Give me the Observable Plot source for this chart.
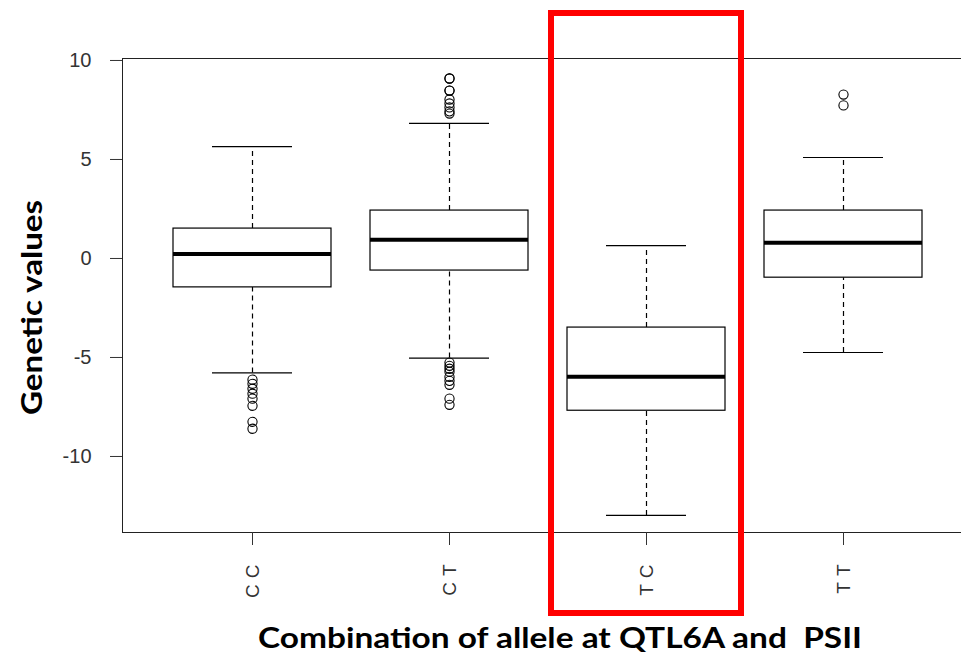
<!DOCTYPE html>
<html>
<head>
<meta charset="utf-8">
<script src="https://cdn.jsdelivr.net/npm/d3@7"></script>
<script src="https://cdn.jsdelivr.net/npm/@observablehq/plot@0.6"></script>
<style>
  html, body { margin: 0; padding: 0; background: #fff; }
  #chart svg { display: block; }
  #chart g[aria-label="x-axis tick label"] text { letter-spacing: 6px; }
</style>
</head>
<body>
<div id="chart"></div>
<script>
// Genotype groups (allele combination at QTL6A and PSII)
const groups = ["CC", "CT", "TC", "TT"];

// Box-and-whisker summaries per group
const lowerWhisker = [-5.78, -5.03, -12.98, -4.75];
const q1 = [-1.46, -0.61, -7.69, -0.97];
const median = [0.23, 0.95, -5.97, 0.80];
const q3 = [1.51, 2.42, -3.49, 2.42];
const upperWhisker = [5.65, 6.82, 0.65, 5.10];

// Points beyond the whiskers
const outliersCC = [-6.12, -6.33, -6.58, -6.83, -7.08, -7.44, -8.25, -8.60];
const outliersCT = [9.09, 9.09, 8.48, 8.48, 8.03, 7.83, 7.63, 7.43, 7.32,
                    -5.26, -5.42, -5.57, -5.72, -5.98, -6.18, -6.38, -7.08, -7.39];
const outliersTC = [];
const outliersTT = [8.28, 7.73];

// Highlighted group
const highlighted = ["TC"];

const yTicks = [-10, -5, 0, 5, 10];
const yDomain = [-13.84, 10.1];

const yTitle = "Genetic values";
const xTitle = "Combination of allele at QTL6A and  PSII";

const boxes = groups.map((g, i) => ({
  group: g,
  lo: lowerWhisker[i], q1: q1[i], med: median[i], q3: q3[i], hi: upperWhisker[i]
}));
const outliers = [
  ...outliersCC.map(v => ({group: "CC", value: v})),
  ...outliersCT.map(v => ({group: "CT", value: v})),
  ...outliersTC.map(v => ({group: "TC", value: v})),
  ...outliersTT.map(v => ({group: "TT", value: v}))
];

const titleFont = "Lato, 'Open Sans', sans-serif";

const chart = Plot.plot({
  width: 961,
  height: 654,
  marginTop: 58,
  marginBottom: 122,
  marginLeft: 122,
  marginRight: 0,
  style: {fontFamily: "'Liberation Sans', Arial, sans-serif", color: "#333", background: "#fff"},
  x: {type: "band", domain: groups, range: [153.5, 941.5], paddingInner: 0.2, paddingOuter: 0.1},
  y: {domain: yDomain},
  marks: [
    // plot frame: left, top and bottom edges
    Plot.frame({anchor: "left", stroke: "#222"}),
    Plot.frame({anchor: "top", stroke: "#222"}),
    Plot.frame({anchor: "bottom", stroke: "#222"}),

    // dashed whiskers
    Plot.ruleX(boxes, {x: "group", y1: "q3", y2: "hi", stroke: "#000", strokeWidth: 1.2, strokeDasharray: "5,4"}),
    Plot.ruleX(boxes, {x: "group", y1: "lo", y2: "q1", stroke: "#000", strokeWidth: 1.2, strokeDasharray: "5,4"}),
    // whisker caps
    Plot.tickY(boxes, {x: "group", y: "hi", stroke: "#000", strokeWidth: 1.2, inset: 39}),
    Plot.tickY(boxes, {x: "group", y: "lo", stroke: "#000", strokeWidth: 1.2, inset: 39}),
    // interquartile boxes
    Plot.barY(boxes, {x: "group", y1: "q1", y2: "q3", fill: "#fff", stroke: "#000", strokeWidth: 1.2, inset: 0}),
    // medians
    Plot.tickY(boxes, {x: "group", y: "med", stroke: "#000", strokeWidth: 4}),
    // outliers
    Plot.dot(outliers, {x: "group", y: "value", r: 4.6, stroke: "#000", fill: "none", strokeWidth: 1.1}),

    Plot.axisY({ticks: yTicks, tickFormat: d => String(d), tickSize: 12, tickPadding: 19, fontSize: 20, label: null, stroke: "#333", fill: "#333"}),
    Plot.axisX({tickSize: 13, tickPadding: 13, tickRotate: -90, fontSize: 19, label: null, stroke: "#333", fill: "#333"}),

    // axis titles
    Plot.text([yTitle], {
      text: d => d, frameAnchor: "left", rotate: -90, dx: -90, dy: 12,
      lineAnchor: "middle", textAnchor: "middle",
      fontFamily: titleFont, fontWeight: "bold", fontSize: 29, fill: "#000"
    }),
    Plot.text([xTitle], {
      text: d => d, frameAnchor: "bottom", dx: 18, dy: 115,
      lineAnchor: "bottom", textAnchor: "middle",
      fontFamily: titleFont, fontWeight: "bold", fontSize: 29, fill: "#000"
    }),

    // highlight around the TC group
    Plot.cell(highlighted, {
      x: d => d, fill: "none", stroke: "#ff0000", strokeWidth: 6,
      insetLeft: -16, insetRight: -16, insetTop: -45, insetBottom: -81
    })
  ]
});

// fit the axis titles to their set lengths
d3.select(chart).selectAll("text").each(function() {
  const t = this.textContent;
  if (t === yTitle) d3.select(this).attr("textLength", 215).attr("lengthAdjust", "spacingAndGlyphs");
  if (t === xTitle) d3.select(this).attr("textLength", 604).attr("lengthAdjust", "spacingAndGlyphs");
});

document.getElementById("chart").appendChild(chart);
</script>
</body>
</html>
